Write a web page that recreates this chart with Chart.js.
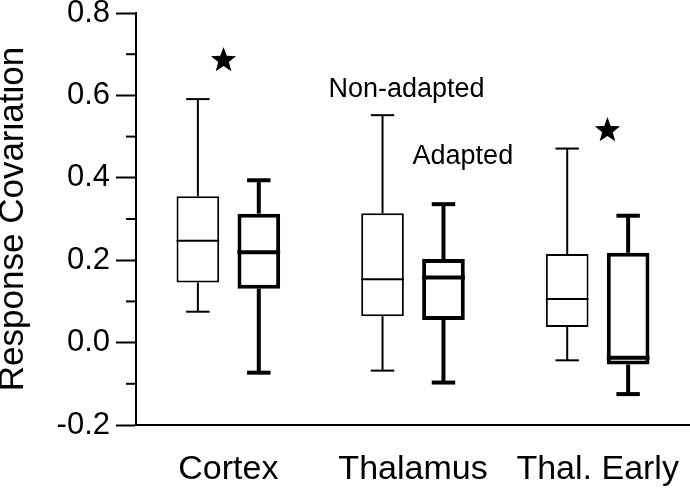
<!DOCTYPE html>
<html lang="en">
<head>
<meta charset="UTF-8">
<title>Response Covariation</title>
<script src="https://cdn.jsdelivr.net/npm/chart.js@4.4.0/dist/chart.umd.min.js"></script>
<style>
    body { margin: 0; background: #fff; }
    #wrap { width: 690px; height: 490px; }
</style>
</head>
<body>
<div id="wrap"><canvas id="chart" width="690" height="490"></canvas></div>
<script>
    const categories = ['Cortex', 'Thalamus', 'Thal. Early'];

    // Non-adapted (thin boxes)
    const naMin = [0.075, -0.068, -0.043];
    const naQ1 = [0.146, 0.064, 0.038];
    const naMedian = [0.247, 0.154, 0.106];
    const naQ3 = [0.355, 0.314, 0.215];
    const naMax = [0.591, 0.552, 0.471];

    // Adapted (thick boxes)
    const adMin = [-0.073, -0.097, -0.125];
    const adQ1 = [0.131, 0.055, -0.053];
    const adMedian = [0.219, 0.158, -0.037];
    const adQ3 = [0.313, 0.203, 0.218];
    const adMax = [0.394, 0.336, 0.308];

    // significance stars: category, shift inside the category, value
    const starCategory = [0, 2];
    const starShift = [-0.026, 0.053];
    const starValue = [0.685, 0.515];

    // in-plot labels
    const noteText = ['Non-adapted', 'Adapted'];
    const noteCategory = [1, 1];
    const noteShift = [-0.035, 0.27];
    const noteValue = [0.596, 0.433];

    const yTicks = [-0.2, 0.0, 0.2, 0.4, 0.6, 0.8];
    const yMinorTicks = [-0.1, 0.1, 0.3, 0.5, 0.7];

    const FONT = "'Liberation Sans', Arial, sans-serif";

    function drawStar(ctx, cx, cy, R) {
        const r = R * 0.42;
        ctx.beginPath();
        for (let k = 0; k < 10; k++) {
            const rad = k % 2 ? r : R;
            const a = -Math.PI / 2 + k * Math.PI / 5;
            ctx.lineTo(cx + rad * Math.cos(a), cy + rad * Math.sin(a));
        }
        ctx.closePath();
        ctx.fill();
    }

    const boxPlugin = {
        id: 'boxes',
        afterDatasetsDraw(chart) {
            const ctx = chart.ctx;
            const x = chart.scales.x;
            const y = chart.scales.y;
            const catWidth = x.width / categories.length;
            const sets = [
                { meta: chart.getDatasetMeta(0), min: naMin, med: naMedian, q1: naQ1, q3: naQ3, max: naMax, lw: 2 },
                { meta: chart.getDatasetMeta(1), min: adMin, med: adMedian, q1: adQ1, q3: adQ3, max: adMax, lw: 4 }
            ];

            ctx.save();
            ctx.strokeStyle = '#000';
            ctx.fillStyle = '#000';
            ctx.lineCap = 'butt';
            const line = (x1, y1, x2, y2) => {
                ctx.beginPath();
                ctx.moveTo(x1, y1);
                ctx.lineTo(x2, y2);
                ctx.stroke();
            };

            sets.forEach(s => {
                ctx.lineWidth = s.lw;
                s.meta.data.forEach((bar, i) => {
                    const p = bar.getProps(['x', 'width'], true);
                    const cap = p.width * 0.55;
                    const yMed = y.getPixelForValue(s.med[i]);
                    const yQ1 = y.getPixelForValue(s.q1[i]);
                    const yQ3 = y.getPixelForValue(s.q3[i]);
                    const yMax = y.getPixelForValue(s.max[i]);
                    const yMin = y.getPixelForValue(s.min[i]);
                    // median
                    line(p.x - p.width / 2, yMed, p.x + p.width / 2, yMed);
                    // whiskers
                    line(p.x, yQ3, p.x, yMax);
                    line(p.x - cap / 2, yMax, p.x + cap / 2, yMax);
                    line(p.x, yQ1, p.x, yMin);
                    line(p.x - cap / 2, yMin, p.x + cap / 2, yMin);
                });
            });

            // minor ticks on y axis
            ctx.lineWidth = 2;
            yMinorTicks.forEach(v => {
                const py = y.getPixelForValue(v);
                line(y.right - 10, py, y.right, py);
            });

            // stars
            starCategory.forEach((c, i) => {
                const px = x.getPixelForValue(c) + starShift[i] * catWidth;
                drawStar(ctx, px, y.getPixelForValue(starValue[i]), 13.3);
            });

            // labels
            ctx.font = '27px ' + FONT;
            ctx.textAlign = 'center';
            ctx.textBaseline = 'alphabetic';
            noteText.forEach((t, i) => {
                const px = x.getPixelForValue(noteCategory[i]) + noteShift[i] * catWidth;
                ctx.fillText(t, px, y.getPixelForValue(noteValue[i]));
            });
            ctx.restore();
        }
    };

    new Chart(document.getElementById('chart'), {
        type: 'bar',
        data: {
            labels: categories,
            datasets: [
                {
                    label: 'Non-adapted',
                    data: categories.map((c, i) => [naQ1[i], naQ3[i]]),
                    backgroundColor: '#fff',
                    borderColor: '#000',
                    borderWidth: 2,
                    borderSkipped: false,
                    categoryPercentage: 0.66,
                    barPercentage: 0.7
                },
                {
                    label: 'Adapted',
                    data: categories.map((c, i) => [adQ1[i], adQ3[i]]),
                    backgroundColor: '#fff',
                    borderColor: '#000',
                    borderWidth: 4,
                    borderSkipped: false,
                    categoryPercentage: 0.66,
                    barPercentage: 0.7
                }
            ]
        },
        options: {
            responsive: false,
            animation: false,
            layout: { padding: { top: 13, right: 0, left: 0, bottom: 0 } },
            plugins: {
                legend: { display: false },
                tooltip: { enabled: false }
            },
            scales: {
                x: {
                    grid: { display: false, drawTicks: false, tickLength: 0 },
                    border: { display: true, color: '#000', width: 2 },
                    ticks: {
                        color: '#000',
                        font: { family: FONT, size: 34, lineHeight: 1 },
                        padding: 28
                    },
                    afterFit(s) {
                        s.height = 65;
                        s.paddingLeft = 0;
                        s.paddingRight = 0;
                    }
                },
                y: {
                    min: -0.2,
                    max: 0.8,
                    afterBuildTicks(s) {
                        s.ticks = yTicks.map(v => ({ value: v }));
                    },
                    ticks: {
                        color: '#000',
                        font: { family: FONT, size: 31 },
                        padding: 6,
                        callback: v => Number(v).toFixed(1)
                    },
                    grid: {
                        drawOnChartArea: false,
                        drawTicks: true,
                        tickLength: 20,
                        tickWidth: 2,
                        tickColor: '#000'
                    },
                    border: { color: '#000', width: 2 },
                    title: {
                        display: true,
                        text: 'Response Covariation',
                        color: '#000',
                        font: { family: FONT, size: 35, lineHeight: 0.78 },
                        padding: 0
                    },
                    afterFit(s) {
                        s.width = 136;
                        s.paddingTop = 0;
                        s.paddingBottom = 0;
                    }
                }
            }
        },
        plugins: [boxPlugin]
    });
</script>
</body>
</html>
